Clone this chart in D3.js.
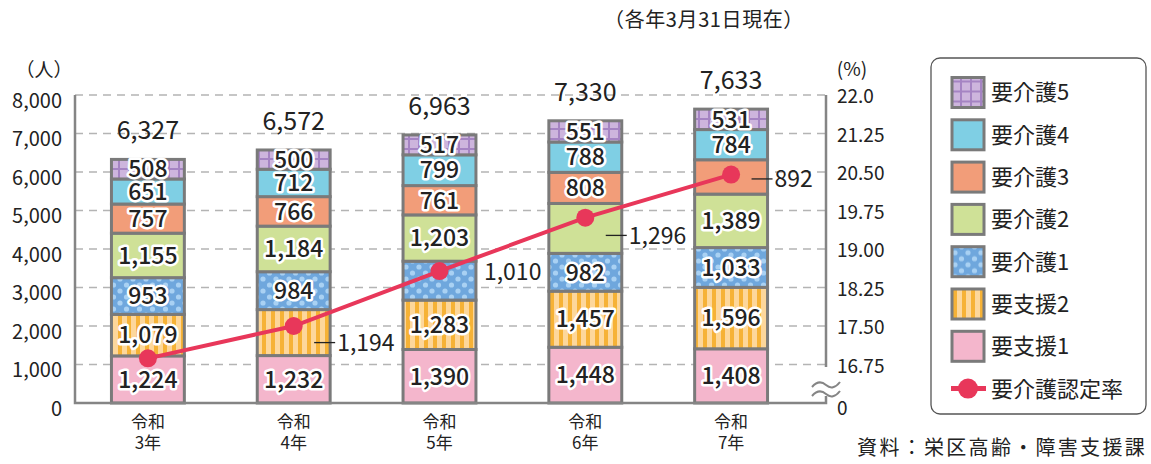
<!DOCTYPE html>
<html>
<head>
<meta charset="utf-8">
<script src="https://cdn.jsdelivr.net/npm/d3@7"></script>
<style>
  body { margin: 0; background: #fff; }
  text { font-family: "Noto Sans CJK JP", "Noto Sans", sans-serif; fill: #222; }
</style>
</head>
<body>
<svg></svg>
<script>
// data (各年3月31日現在)
const years = ["令和3年", "令和4年", "令和5年", "令和6年", "令和7年"];
const seriesNames = ["要支援1", "要支援2", "要介護1", "要介護2", "要介護3", "要介護4", "要介護5"];
const shien1 = [1224, 1232, 1390, 1448, 1408];
const shien2 = [1079, 1194, 1283, 1457, 1596];
const kaigo1 = [953, 984, 1010, 982, 1033];
const kaigo2 = [1155, 1184, 1203, 1296, 1389];
const kaigo3 = [757, 766, 761, 808, 892];
const kaigo4 = [651, 712, 799, 788, 784];
const kaigo5 = [508, 500, 517, 551, 531];
const rate = [16.87, 17.50, 18.57, 19.61, 20.45];   // 要介護認定率 (%)
const leftTicks = [0, 1000, 2000, 3000, 4000, 5000, 6000, 7000, 8000];
const rightTicks = [16.75, 17.5, 18.25, 19, 19.75, 20.5, 21.25, 22];
const rightTickLabels = ["16.75", "17.50", "18.25", "19.00", "19.75", "20.50", "21.25", "22.0"];

const svgWidth = 1151;
const svgHeight = 464;
const svg = d3.select("svg").attr("width", svgWidth).attr("height", svgHeight);

const plot = {left: 75, right: 826, top: 95, bottom: 403};

const table = years.map((year, i) => ({
  year,
  "要支援1": shien1[i], "要支援2": shien2[i], "要介護1": kaigo1[i], "要介護2": kaigo2[i],
  "要介護3": kaigo3[i], "要介護4": kaigo4[i], "要介護5": kaigo5[i], rate: rate[i]
}));

const x = d3.scaleBand().domain(years).range([plot.left, 804]).paddingInner(0.5).paddingOuter(0.25);
const y = d3.scaleLinear().domain([0, 8000]).range([plot.bottom, plot.top]);
const yR = d3.scaleLinear().domain([16, 22]).range([plot.bottom, plot.top]);

// patterns
const defs = svg.append("defs");
const stripe = defs.append("pattern").attr("id", "p-shien2").attr("patternUnits", "userSpaceOnUse")
  .attr("width", 9).attr("height", 9);
stripe.append("rect").attr("width", 9).attr("height", 9).attr("fill", "#fdd79b");
stripe.append("rect").attr("x", 1).attr("width", 4).attr("height", 9).attr("fill", "#f6b236");

const dots = defs.append("pattern").attr("id", "p-kaigo1").attr("patternUnits", "userSpaceOnUse")
  .attr("width", 13).attr("height", 12);
dots.append("rect").attr("width", 13).attr("height", 12).attr("fill", "#6fa7dd");
dots.append("circle").attr("cx", 3).attr("cy", 3).attr("r", 2.6).attr("fill", "#a9d1f3");
dots.append("circle").attr("cx", 9.5).attr("cy", 9).attr("r", 2.6).attr("fill", "#a9d1f3");

const grid = defs.append("pattern").attr("id", "p-kaigo5").attr("patternUnits", "userSpaceOnUse")
  .attr("width", 10).attr("height", 10);
grid.append("rect").attr("width", 10).attr("height", 10).attr("fill", "#cdb5dd");
grid.append("rect").attr("x", 8).attr("width", 2).attr("height", 10).attr("fill", "#a584c3");
grid.append("rect").attr("y", 8).attr("width", 10).attr("height", 2).attr("fill", "#a584c3");

const fills = {
  "要支援1": "#f4b6cc", "要支援2": "url(#p-shien2)", "要介護1": "url(#p-kaigo1)",
  "要介護2": "#cfe197", "要介護3": "#f29d79", "要介護4": "#7fcfe4", "要介護5": "url(#p-kaigo5)"
};
const barStroke = "#7a7a7a";
const lineColor = "#e8375a";

// gridlines
svg.append("g").selectAll("line")
  .data(leftTicks.filter(d => d > 0))
  .enter().append("line")
  .attr("x1", plot.left).attr("x2", plot.right)
  .attr("y1", d => y(d)).attr("y2", d => y(d))
  .attr("stroke", "#b4b4b4").attr("stroke-width", 1.5).attr("stroke-dasharray", "8,6");

// bars
const stack = d3.stack().keys(seriesNames);
const layers = stack(table);

const layer = svg.append("g").selectAll("g")
  .data(layers)
  .enter().append("g")
  .attr("fill", d => fills[d.key]);

layer.selectAll("rect")
  .data(d => d)
  .enter().append("rect")
  .attr("x", d => x(d.data.year))
  .attr("y", d => y(d[1]))
  .attr("width", x.bandwidth())
  .attr("height", d => y(d[0]) - y(d[1]))
  .attr("stroke", barStroke)
  .attr("stroke-width", 3);

// rate line
const line = d3.line().x(d => x(d.year) + x.bandwidth() / 2).y(d => yR(d.rate));
svg.append("path")
  .datum(table)
  .attr("d", line)
  .attr("fill", "none")
  .attr("stroke", lineColor)
  .attr("stroke-width", 4);
svg.append("g").selectAll("circle")
  .data(table)
  .enter().append("circle")
  .attr("cx", d => x(d.year) + x.bandwidth() / 2)
  .attr("cy", d => yR(d.rate))
  .attr("r", 9)
  .attr("fill", lineColor);

// segment labels; a few sit outside the bar
const outside = {
  "1-要支援2": {dy: 10, leader: true},
  "2-要介護1": {dy: -9, leader: false},
  "3-要介護2": {dy: 7, leader: true},
  "4-要介護3": {dy: 2, leader: true}
};
const fmt = d3.format(",");
const labels = svg.append("g");
layers.forEach(s => {
  s.forEach((d, i) => {
    const cx = x(d.data.year) + x.bandwidth() / 2;
    const cy = (y(d[0]) + y(d[1])) / 2;
    const o = outside[i + "-" + s.key];
    if (o) {
      const right = x(d.data.year) + x.bandwidth();
      if (o.leader) {
        labels.append("line")
          .attr("x1", right - 16).attr("x2", right + 5)
          .attr("y1", cy + o.dy).attr("y2", cy + o.dy)
          .attr("stroke", "#222").attr("stroke-width", 1.3);
      }
      labels.append("text")
        .attr("x", right + (o.leader ? 7 : 8))
        .attr("y", cy + o.dy)
        .attr("dy", "0.36em")
        .attr("font-size", 23)
        .text(fmt(d.data[s.key]));
    } else {
      labels.append("text")
        .attr("x", cx)
        .attr("y", cy)
        .attr("dy", "0.36em")
        .attr("text-anchor", "middle")
        .attr("font-size", 23)
        .attr("font-weight", 500)
        .attr("stroke", "#fff")
        .attr("stroke-width", 5)
        .attr("stroke-linejoin", "round")
        .attr("paint-order", "stroke")
        .text(fmt(d.data[s.key]));
    }
  });
});

// totals
svg.append("g").selectAll("text")
  .data(table)
  .enter().append("text")
  .attr("x", d => x(d.year) + x.bandwidth() / 2)
  .attr("y", d => y(d3.sum(seriesNames, k => d[k])) - 29)
  .attr("dy", "0.36em")
  .attr("text-anchor", "middle")
  .attr("font-size", 25)
  .text(d => fmt(d3.sum(seriesNames, k => d[k])));

// axes
const axisColor = "#858585";
const leftAxis = svg.append("g")
  .attr("transform", "translate(" + plot.left + ",0)")
  .call(d3.axisLeft(y).tickValues(leftTicks).tickFormat(fmt).tickSize(0).tickPadding(13));
leftAxis.select(".domain").remove();
leftAxis.selectAll("text").attr("font-size", 20).attr("dy", "0.6em").attr("fill", "#222")
  .style("font-family", "'Noto Sans CJK JP', sans-serif");

const rightAxis = svg.append("g")
  .attr("transform", "translate(" + plot.right + ",0)")
  .call(d3.axisRight(yR).tickValues(rightTicks).tickFormat((d, i) => rightTickLabels[i]).tickSize(0).tickPadding(11));
rightAxis.select(".domain").remove();
rightAxis.selectAll("text").attr("font-size", 19).attr("dy", "0.4em").attr("fill", "#222")
  .style("font-family", "'Noto Sans CJK JP', sans-serif");
svg.append("text").attr("x", plot.right + 11).attr("y", yR(16) + 5).attr("dy", "0.36em")
  .attr("font-size", 19).text("0");

const axes = svg.append("g").attr("stroke", axisColor).attr("stroke-width", 2.5).attr("fill", "none");
axes.append("path").attr("d", `M${plot.left},${plot.top}V${plot.bottom}H${plot.right}V396`);
axes.append("path").attr("d", `M${plot.right},${plot.top}V367`);
// axis break
axes.append("path").attr("d", "M812,387 q7,-8 14,-2 t14,-3").attr("stroke-width", 2);
axes.append("path").attr("d", "M812,396 q7,-8 14,-2 t14,-3").attr("stroke-width", 2);

// unit labels, title, source
svg.append("text").attr("x", 44).attr("y", 70).attr("dy", "0.36em").attr("text-anchor", "middle")
  .attr("font-size", 19).text("（人）");
svg.append("text").attr("x", 852).attr("y", 69).attr("dy", "0.36em").attr("text-anchor", "middle")
  .attr("font-size", 19).text("(%)");
svg.append("text").attr("x", 704).attr("y", 20).attr("dy", "0.36em").attr("text-anchor", "middle")
  .attr("font-size", 20).attr("letter-spacing", 0.6).text("（各年3月31日現在）");
svg.append("text").attr("x", 1147).attr("y", 448).attr("dy", "0.36em").attr("text-anchor", "end")
  .attr("font-size", 20).attr("letter-spacing", 2.3).text("資料：栄区高齢・障害支援課");

// x labels
const xl = svg.append("g").selectAll("text")
  .data(years)
  .enter().append("text")
  .attr("x", d => x(d) + x.bandwidth() / 2)
  .attr("text-anchor", "middle")
  .attr("font-size", 17);
xl.append("tspan").attr("x", d => x(d) + x.bandwidth() / 2).attr("y", 428).text(d => d.slice(0, 2));
xl.append("tspan").attr("x", d => x(d) + x.bandwidth() / 2).attr("y", 449).text(d => d.slice(2));

// legend
const legend = svg.append("g");
legend.append("rect").attr("x", 931).attr("y", 58).attr("width", 215).attr("height", 356).attr("rx", 9)
  .attr("fill", "#fff").attr("stroke", "#555").attr("stroke-width", 1.3);
const legendItems = seriesNames.slice().reverse().concat(["要介護認定率"]);
const item = legend.selectAll("g.item")
  .data(legendItems)
  .enter().append("g")
  .attr("class", "item")
  .attr("transform", (d, i) => "translate(952," + (92.5 + i * 42.3) + ")");
item.filter(d => d !== "要介護認定率").append("rect")
  .attr("x", 0).attr("y", -15).attr("width", 32).attr("height", 30)
  .attr("fill", d => fills[d]).attr("stroke", barStroke).attr("stroke-width", 3);
const lineItem = item.filter(d => d === "要介護認定率");
lineItem.append("line").attr("x1", -1).attr("x2", 34).attr("y1", 0).attr("y2", 0)
  .attr("stroke", lineColor).attr("stroke-width", 5);
lineItem.append("circle").attr("cx", 16).attr("cy", 0).attr("r", 10).attr("fill", lineColor);
item.append("text").attr("x", 39).attr("y", 0).attr("dy", "0.36em").attr("font-size", 22).text(d => d);
</script>
</body>
</html>
